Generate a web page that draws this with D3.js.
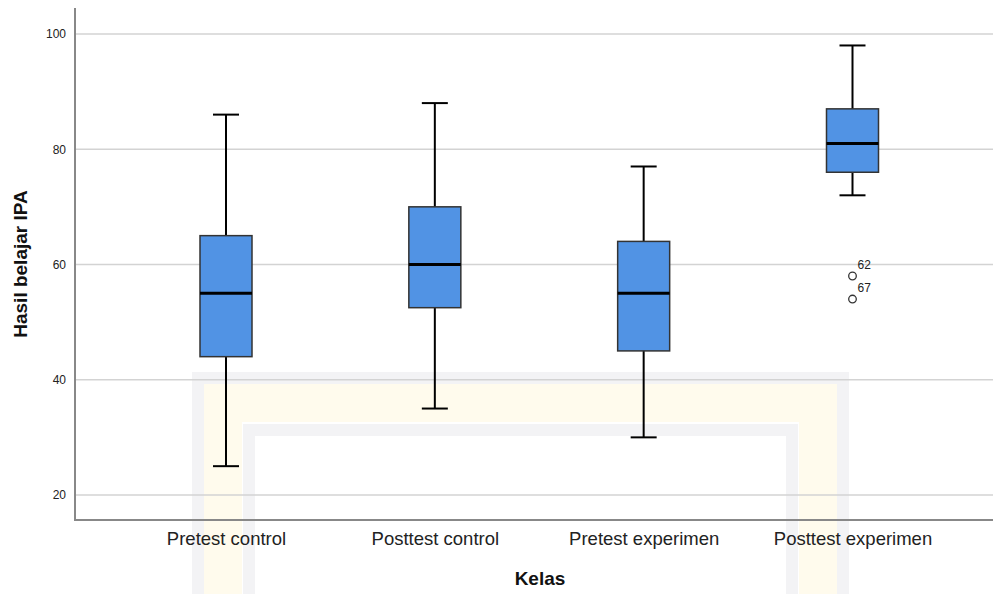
<meta charset="utf-8">
<style>
  body { margin: 0; background: #fff; }
  text { font-family: "Liberation Sans", Arial, sans-serif; }
  .grid line { stroke: #d3d3d3; stroke-width: 1.5; }
  .box { fill: #5193e4; stroke: #333; stroke-width: 1.5; }
  .whisker { stroke: #000; stroke-width: 2; }
  .median { stroke: #000; stroke-width: 3; }
  .outlier { fill: #fff; stroke: #333; stroke-width: 1.3; }
</style>
<body>
<script src="https://d3js.org/d3.v7.min.js"></script>
<script>

// data
var categories = ["Pretest control", "Posttest control", "Pretest experimen", "Posttest experimen"];
var whiskerLow  = [25, 35, 30, 72];
var q1          = [44, 52.5, 45, 76];
var median      = [55, 60, 55, 81];
var q3          = [65, 70, 64, 87];
var whiskerHigh = [86, 88, 77, 98];
var outlierGroup = ["Posttest experimen", "Posttest experimen"];
var outlierValue = [58, 54];
var outlierLabel = ["62", "67"];
var yTicks = [20, 40, 60, 80, 100];

var width = 993, height = 594;
var plotLeft = 75, plotBottom = 520, plotTop = 8;

var svg = d3.select("body").append("svg")
    .attr("width", width)
    .attr("height", height);

var x = d3.scalePoint().domain(categories).range([226, 852.5]);
var y = d3.scaleLinear().domain([15.66, 104.5]).range([plotBottom, plotTop]);

// faint watermark frame in the background
var wm = svg.append("g").attr("opacity", 0.45);
wm.append("rect").attr("x", 198).attr("y", 378).attr("width", 645).attr("height", 240)
    .attr("fill", "none").attr("stroke", "#e6e6ea").attr("stroke-width", 12);
wm.append("rect").attr("x", 223).attr("y", 403).attr("width", 595).attr("height", 220)
    .attr("fill", "none").attr("stroke", "#fff8d8").attr("stroke-width", 38);
wm.append("rect").attr("x", 249).attr("y", 430).attr("width", 543).attr("height", 200)
    .attr("fill", "none").attr("stroke", "#e6e6ea").attr("stroke-width", 12);

// grid lines
svg.append("g").attr("class", "grid")
  .selectAll("line").data(yTicks).enter().append("line")
    .attr("x1", plotLeft).attr("x2", width)
    .attr("y1", function(d) { return y(d); })
    .attr("y2", function(d) { return y(d); });

// y axis
var yAxis = svg.append("g")
    .attr("transform", "translate(" + plotLeft + ",0)")
    .call(d3.axisLeft(y).tickValues(yTicks).tickSize(0).tickPadding(9));
yAxis.select(".domain").remove();
yAxis.selectAll("text").style("font-size", "12px").attr("fill", "#222")
    .style("font-family", "'Liberation Sans', Arial, sans-serif");

// x axis labels
var xAxis = svg.append("g")
    .attr("transform", "translate(0," + plotBottom + ")")
    .call(d3.axisBottom(x).tickSize(0).tickPadding(12));
xAxis.select(".domain").remove();
xAxis.selectAll("text").style("font-size", "18.5px").attr("fill", "#222")
    .style("font-family", "'Liberation Sans', Arial, sans-serif");

// axis lines
svg.append("line").attr("x1", plotLeft).attr("x2", plotLeft).attr("y1", plotTop).attr("y2", plotBottom + 1)
    .attr("stroke", "#888").attr("stroke-width", 2);
svg.append("line").attr("x1", plotLeft).attr("x2", width).attr("y1", plotBottom).attr("y2", plotBottom)
    .attr("stroke", "#888").attr("stroke-width", 2);

var boxW = 52, capW = 26;
var boxes = svg.selectAll(".bp").data(categories).enter().append("g").attr("class", "bp");

boxes.append("line").attr("class", "whisker")
    .attr("x1", function(d) { return x(d); }).attr("x2", function(d) { return x(d); })
    .attr("y1", function(d, i) { return y(whiskerHigh[i]); })
    .attr("y2", function(d, i) { return y(whiskerLow[i]); });
boxes.append("line").attr("class", "whisker")
    .attr("x1", function(d) { return x(d) - capW / 2; }).attr("x2", function(d) { return x(d) + capW / 2; })
    .attr("y1", function(d, i) { return y(whiskerHigh[i]); })
    .attr("y2", function(d, i) { return y(whiskerHigh[i]); });
boxes.append("line").attr("class", "whisker")
    .attr("x1", function(d) { return x(d) - capW / 2; }).attr("x2", function(d) { return x(d) + capW / 2; })
    .attr("y1", function(d, i) { return y(whiskerLow[i]); })
    .attr("y2", function(d, i) { return y(whiskerLow[i]); });
boxes.append("rect").attr("class", "box")
    .attr("x", function(d) { return x(d) - boxW / 2; })
    .attr("width", boxW)
    .attr("y", function(d, i) { return y(q3[i]); })
    .attr("height", function(d, i) { return y(q1[i]) - y(q3[i]); });
boxes.append("line").attr("class", "median")
    .attr("x1", function(d) { return x(d) - boxW / 2; }).attr("x2", function(d) { return x(d) + boxW / 2; })
    .attr("y1", function(d, i) { return y(median[i]); })
    .attr("y2", function(d, i) { return y(median[i]); });

// outliers
svg.selectAll(".outlier").data(outlierValue).enter().append("circle")
    .attr("class", "outlier")
    .attr("cx", function(d, i) { return x(outlierGroup[i]); })
    .attr("cy", function(d) { return y(d); })
    .attr("r", 3.8);
svg.selectAll(".olabel").data(outlierValue).enter().append("text")
    .attr("class", "olabel")
    .attr("x", function(d, i) { return x(outlierGroup[i]) + 5; })
    .attr("y", function(d) { return y(d) - 7; })
    .style("font-size", "12px").attr("fill", "#222")
    .text(function(d, i) { return outlierLabel[i]; });

// axis titles
svg.append("text")
    .attr("x", 540).attr("y", 585)
    .attr("text-anchor", "middle")
    .style("font-size", "19px").style("font-weight", "bold").attr("fill", "#111")
    .text("Kelas");
svg.append("text")
    .attr("transform", "translate(27,264) rotate(-90)")
    .attr("text-anchor", "middle")
    .style("font-size", "19px").style("font-weight", "bold").attr("fill", "#111")
    .text("Hasil belajar IPA");

</script>
</body>
